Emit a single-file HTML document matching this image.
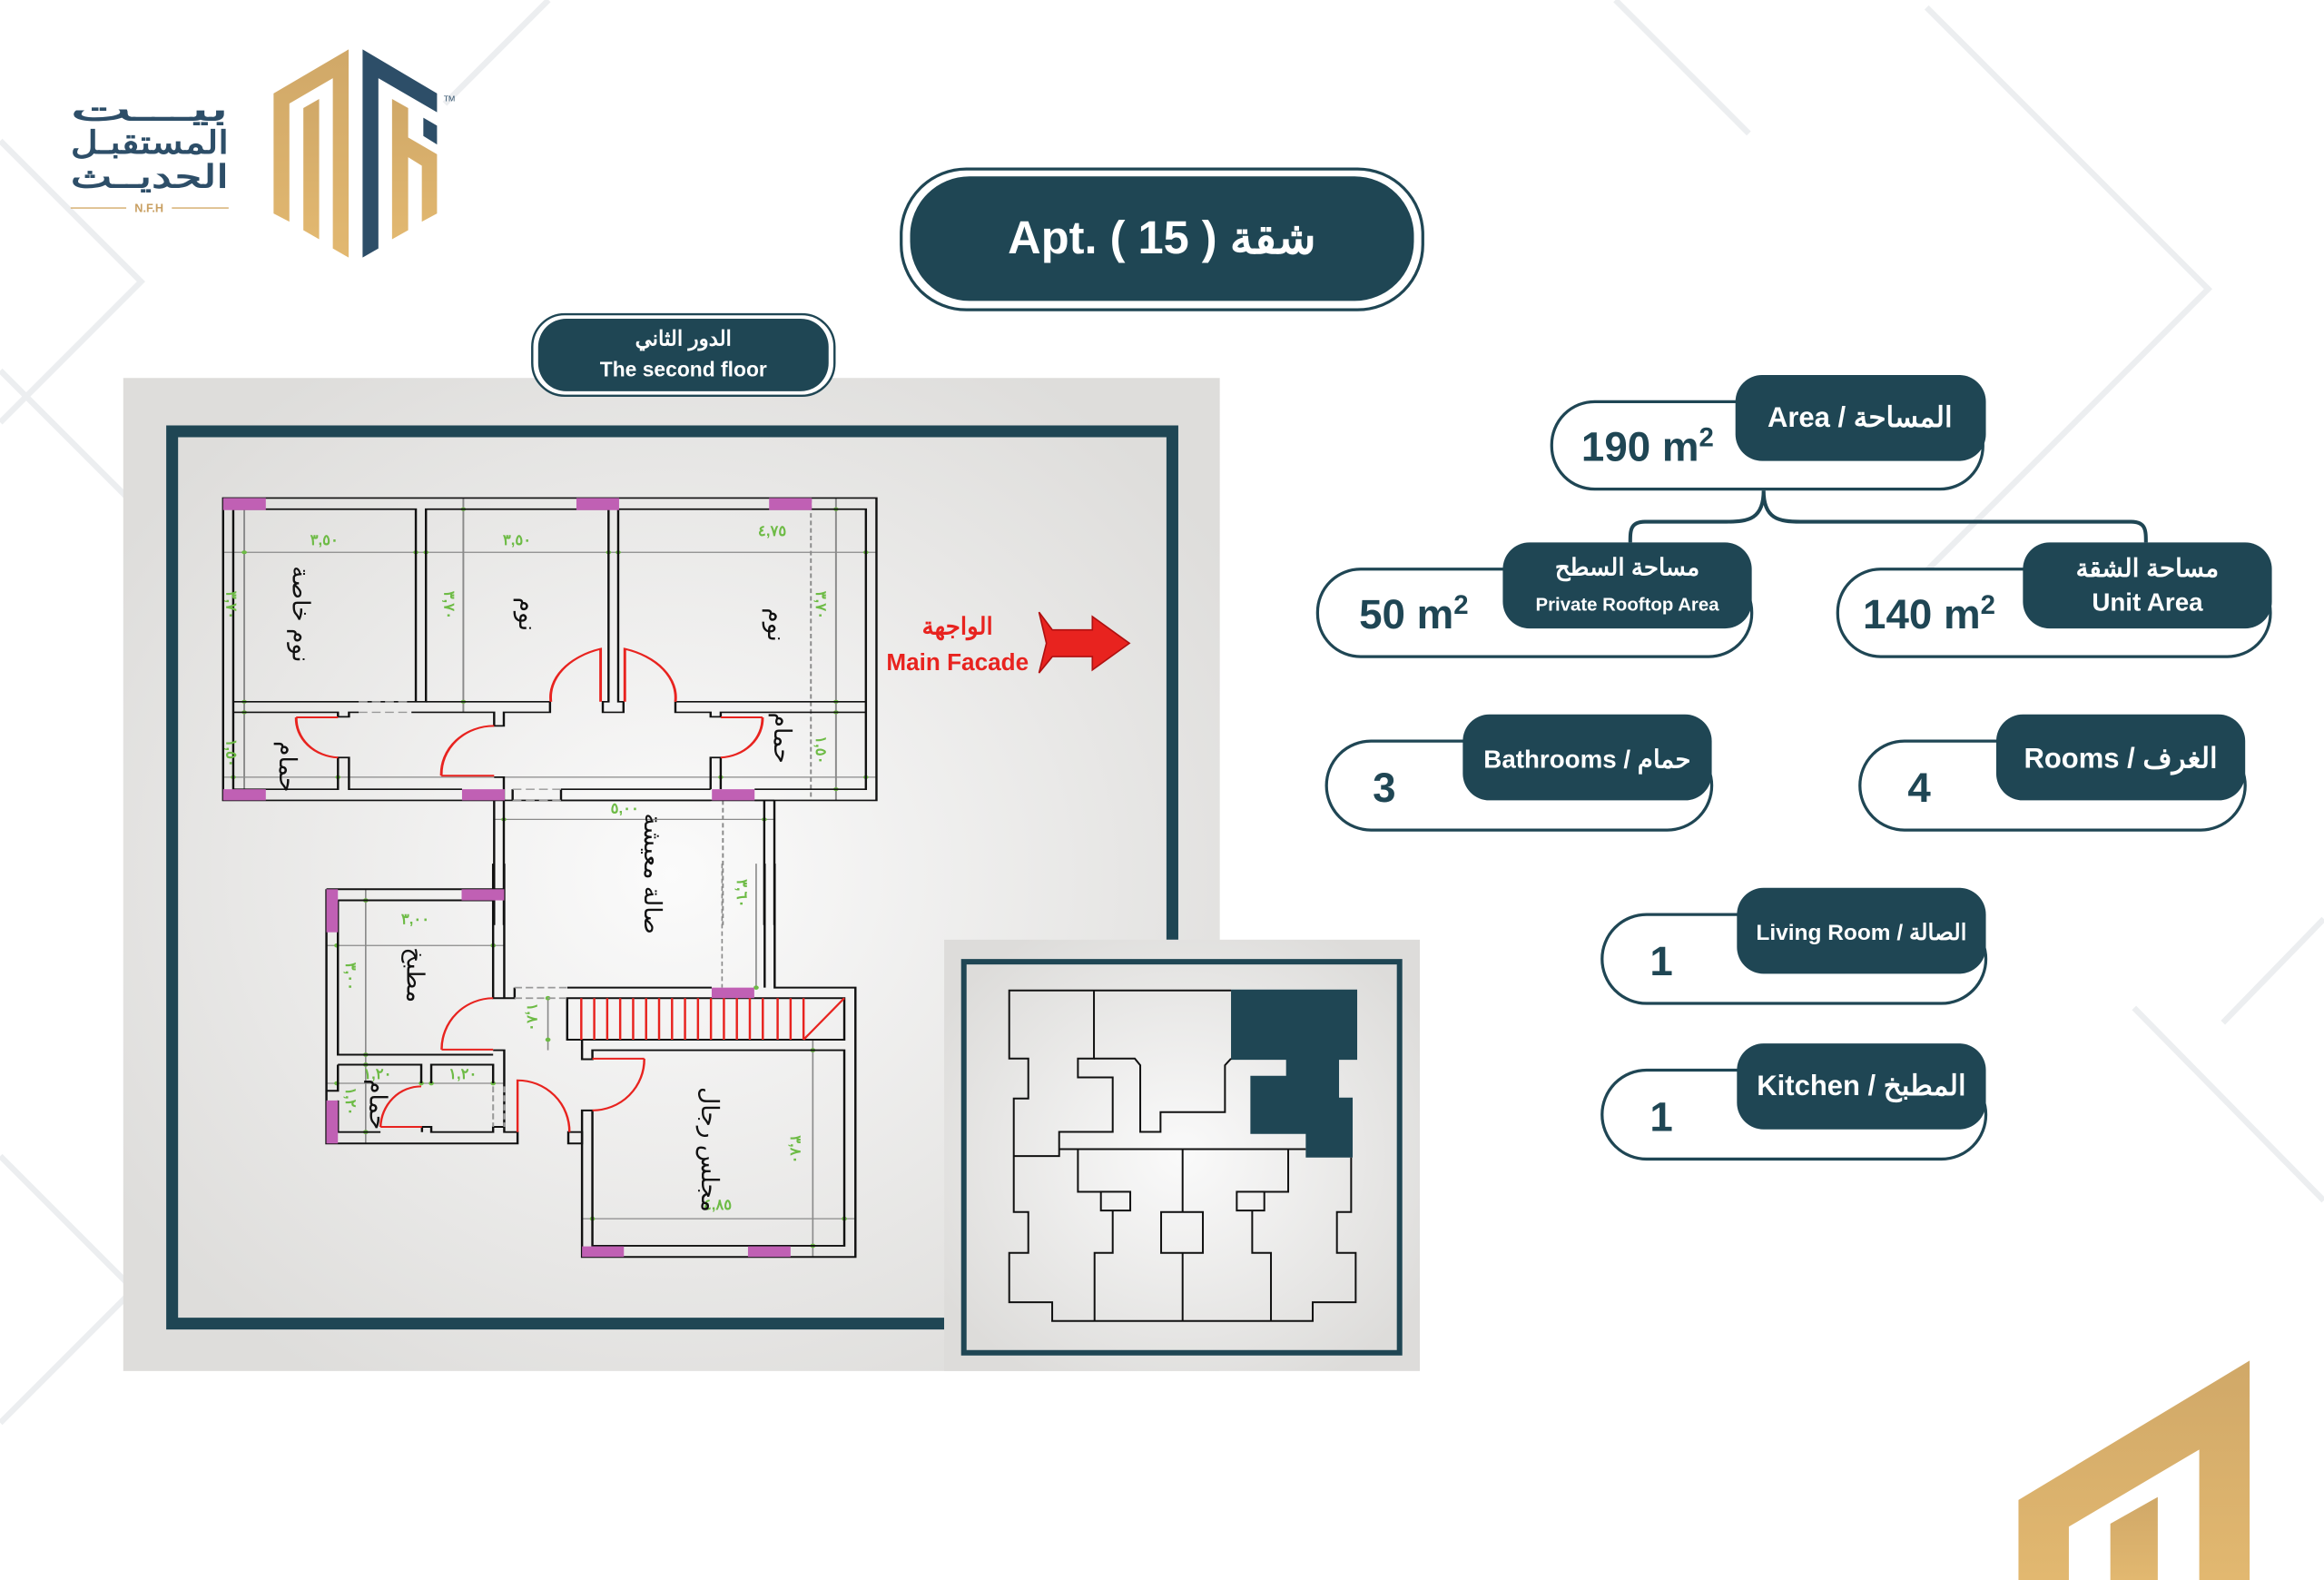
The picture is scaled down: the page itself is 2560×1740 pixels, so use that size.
<!DOCTYPE html>
<html><head><meta charset="utf-8"><style>
html,body{margin:0;padding:0;background:#fff;}
svg{display:block;}
text{font-family:"Liberation Sans","Noto Sans CJK SC",sans-serif;}
</style></head><body>
<svg width="2560" height="1740" viewBox="0 0 1568 1066" xmlns="http://www.w3.org/2000/svg">
<defs>
<radialGradient id="pg" cx="50%" cy="50%" r="60%"><stop offset="0" stop-color="#fbfbfb"/><stop offset="1" stop-color="#dedddb"/></radialGradient>
<radialGradient id="ig" cx="50%" cy="50%" r="60%"><stop offset="0" stop-color="#fafafa"/><stop offset="1" stop-color="#dddcda"/></radialGradient>
<linearGradient id="gold" x1="0" y1="0" x2="0" y2="1"><stop offset="0" stop-color="#d0a868"/><stop offset="1" stop-color="#e2b870"/></linearGradient>
</defs>
<rect width="1568" height="1066" fill="#fff"/>
<g stroke="#eceef0" stroke-width="4" fill="none">
<path d="M0,95 L95,190 L0,285"/>
<path d="M0,250 L130,380"/>
<path d="M1300,5 L1490,195 L1300,385"/>
<path d="M1440,680 L1568,810"/>
<path d="M1500,690 L1568,620"/>
<path d="M0,780 L90,870 L0,960"/>
<path d="M370,0 L300,70"/>
<path d="M1090,0 L1180,90"/>
</g>
<!-- logo -->
<g transform="translate(2,20) scale(0.205)">
<polygon points="890,210 1137,65 1137,750 1085,720 1085,160 942,243 942,632 890,605" fill="url(#gold)"/>
<polygon points="988,258 1040,228 1040,690 988,660" fill="url(#gold)"/>
<polygon points="1183,65 1428,210 1428,272 1235,160 1235,720 1183,750" fill="#2d4e68"/>
<polygon points="1383,290 1428,316 1428,378 1383,350" fill="#2d4e68"/>
<polygon points="1280,228 1333,258 1333,355 1428,410 1428,605 1378,632 1378,448 1333,420 1333,660 1280,690" fill="url(#gold)"/>
<text x="1450" y="235" font-size="26" fill="#2d4e68">TM</text>
<g font-weight="bold" fill="#2d4e68" text-anchor="end" font-size="105">
<text x="742" y="298" textLength="520" lengthAdjust="spacingAndGlyphs">بيـــت</text>
<text x="742" y="408" textLength="520" lengthAdjust="spacingAndGlyphs">المستقبـل</text>
<text x="742" y="520" textLength="520" lengthAdjust="spacingAndGlyphs">الحديــث</text>
</g>
<line x1="222" y1="587" x2="405" y2="587" stroke="#d4aa68" stroke-width="4"/>
<line x1="555" y1="587" x2="742" y2="587" stroke="#d4aa68" stroke-width="4"/>
<text x="480" y="600" font-size="38" fill="#c9a063" text-anchor="middle" font-weight="bold">N.F.H</text>
</g>
<!-- title -->
<rect x="608" y="114" width="352" height="95" rx="44" fill="#fff" stroke="#1f4654" stroke-width="2"/>
<rect x="614" y="119" width="340" height="84" rx="40" fill="#1f4654"/>
<text x="784" y="171" font-size="31" font-weight="bold" fill="#fff" text-anchor="middle">Apt. ( 15 ) شقة</text>
<!-- panel -->
<rect x="83" y="255" width="740" height="670" fill="url(#pg)"/>
<path d="M637,893 L116,893 L116,291 L791,291 L791,634" fill="none" stroke="#1f4654" stroke-width="8"/>
<!-- floor label -->
<rect x="359" y="212" width="204" height="55" rx="22" fill="#fff" stroke="#1f4654" stroke-width="1.5"/>
<rect x="363" y="215" width="196" height="49" rx="19" fill="#1f4654"/>
<text x="461" y="233" font-size="14" font-weight="bold" fill="#fff" text-anchor="middle">الدور الثاني</text>
<text x="461" y="254" font-size="14" font-weight="bold" fill="#fff" text-anchor="middle">The second floor</text>
<!-- inset -->
<rect x="637" y="634" width="321" height="291" fill="url(#ig)"/>
<g transform="translate(637,630.9) scale(0.2042)">
<rect x="65" y="88" width="1440" height="1292" fill="none" stroke="#1f4654" stroke-width="18"/>
<path d="M948,180 L1365,180 L1365,412 L1305,412 L1305,537 L1350,537 L1350,735 L1195,735 L1195,657 L1012,657 L1012,465 L1130,465 L1130,412 L948,412 Z" fill="#1f4654"/>
<g fill="none" stroke="#111" stroke-width="6">
<path d="M948,183 L215,183 L215,408 L278,408 L278,540 L230,540 L230,915 L278,915 L278,1050 L215,1050 L215,1213 L357,1213 L357,1275 L1218,1275 L1218,1213 L1360,1213 L1360,1050 L1298,1050 L1298,915 L1345,915 L1345,735"/>
<path d="M495,183 L495,408 L442,408 L442,470 L557,470 L557,650 L380,650 L380,730 L230,730"/>
<path d="M495,408 L630,408 L648,430 L648,650 L715,650 L715,585 L928,585 L928,430 L948,408"/>
<path d="M380,707 L1195,707"/>
<path d="M442,707 L442,848 L518,848"/>
<rect x="518" y="848" width="97" height="62"/>
<path d="M557,910 L557,1050 L497,1050 L497,1275"/>
<path d="M788,707 L788,915"/>
<rect x="717" y="915" width="138" height="135"/>
<path d="M788,1050 L788,1275"/>
<path d="M1137,707 L1137,848 L1058,848"/>
<rect x="967" y="848" width="91" height="62"/>
<path d="M1018,910 L1018,1050 L1080,1050 L1080,1275"/>
</g>
</g>
<!-- floor plan upper -->
<g transform="translate(140.9,318.7) scale(0.2969,0.2036)">
<g stroke="#8a8a8a" stroke-width="4" fill="none">
<line x1="32" y1="265" x2="1517" y2="265"/>
<line x1="32" y1="1010" x2="1517" y2="1010"/>
<line x1="80" y1="85" x2="80" y2="1087"/>
<line x1="578" y1="85" x2="578" y2="795"/>
<line x1="1425" y1="85" x2="1425" y2="1087"/>
<line x1="1368" y1="85" x2="1368" y2="1087" stroke-dasharray="15,10"/>
<line x1="1168" y1="1087" x2="1168" y2="1500" stroke-dasharray="15,10"/>
<line x1="648" y1="1150" x2="1285" y2="1150"/>
</g>
<g fill="#6dbb45">
<circle cx="80" cy="265" r="6"/><circle cx="470" cy="265" r="6"/><circle cx="493" cy="265" r="6"/><circle cx="908" cy="265" r="6"/><circle cx="930" cy="265" r="6"/><circle cx="1493" cy="265" r="6"/>
<circle cx="578" cy="122" r="6"/><circle cx="578" cy="760" r="6"/><circle cx="1425" cy="122" r="6"/><circle cx="1425" cy="760" r="6"/><circle cx="1425" cy="795" r="6"/><circle cx="1425" cy="1050" r="6"/>
<circle cx="80" cy="760" r="6"/><circle cx="80" cy="795" r="6"/><circle cx="55" cy="1010" r="6"/><circle cx="293" cy="1010" r="6"/><circle cx="1163" cy="1010" r="6"/><circle cx="1493" cy="1010" r="6"/>
<circle cx="670" cy="1150" r="6"/><circle cx="1262" cy="1150" r="6"/>
</g>
<g fill="none" stroke="#111" stroke-width="5">
<rect x="32" y="85" width="1485" height="1002"/>
<path d="M55,122 L470,122 L470,760 L340,760 M460,760 L493,760 L493,122 L908,122 L908,760 L895,760 L895,795 L942,795 L942,760 L930,760 L930,122 L1493,122 L1493,1050 L1240,1050 M575,1050 L318,1050 L318,945 L293,945 L293,1050 L55,1050 L55,122"/>
<path d="M55,760 L340,760 M55,795 L293,795 L293,810 L318,810 L318,795 L340,795 M460,795 L648,795 L648,840 L670,840 L670,795 L775,795 L775,760 L493,760"/>
<path d="M1060,760 L1493,760 M1060,760 L1060,795 L1140,795 L1140,810 L1163,810 L1163,795 L1493,795"/>
<path d="M1140,1050 L1140,945 L1163,945 L1163,1050"/>
<path d="M648,1010 L670,1010 L670,1087 M690,1050 L690,1087 M800,1050 L800,1087 L1140,1087 M800,1050 L1140,1050"/>
<path d="M648,1087 L648,1500 M670,1087 L670,1500 M1262,1087 L1262,1500 M1285,1087 L1285,1500 M1240,1087 L1285,1087"/>
</g>
<g stroke="#999" stroke-width="4" stroke-dasharray="20,10">
<line x1="340" y1="760" x2="460" y2="760"/><line x1="340" y1="795" x2="460" y2="795"/>
<line x1="690" y1="1050" x2="800" y2="1050"/><line x1="690" y1="1087" x2="800" y2="1087"/>
</g>
<g fill="#c060b4">
<rect x="32" y="85" width="97" height="40"/><rect x="835" y="85" width="97" height="40"/><rect x="1273" y="85" width="97" height="40"/>
<rect x="32" y="1050" width="97" height="37"/><rect x="575" y="1050" width="97" height="37"/><rect x="1143" y="1050" width="97" height="37"/>
</g>
<g fill="none" stroke="#e8231f" stroke-width="6">
<path d="M890,760 L890,585 A170,170 0 0 0 777,760"/>
<path d="M945,760 L945,585 A170,170 0 0 1 1060,760"/>
<path d="M198,812 L293,812 M198,812 A100,130 0 0 0 293,945"/>
<path d="M1163,812 L1258,812 M1258,812 A100,130 0 0 1 1163,945"/>
<path d="M528,1005 L648,1005 M528,1005 A120,160 0 0 1 648,840"/>
</g>
<g font-size="50" fill="#6dbb45" font-weight="bold" text-anchor="middle">
<text transform="translate(262,240) scale(0.686,1)">٣,٥٠</text>
<text transform="translate(700,240) scale(0.686,1)">٣,٥٠</text>
<text transform="translate(1280,210) scale(0.686,1)">٤,٧٥</text>
<text transform="translate(945,1130) scale(0.686,1)">٥,٠٠</text>
<text transform="translate(40,440) rotate(90) scale(1,0.686)">٣,٧٠</text>
<text transform="translate(535,440) rotate(90) scale(1,0.686)">٣,٧٠</text>
<text transform="translate(1380,440) rotate(90) scale(1,0.686)">٣,٧٠</text>
<text transform="translate(40,930) rotate(90) scale(1,0.686)">١,٥٠</text>
<text transform="translate(1380,920) rotate(90) scale(1,0.686)">١,٥٠</text>
<text transform="translate(1200,1395) rotate(90) scale(1,0.686)">٣,٦٠</text>
</g>
<g font-size="80" fill="#111" text-anchor="middle">
<text transform="translate(190,470) rotate(90) scale(1,0.686)">نوم خاصة</text>
<text transform="translate(705,470) rotate(90) scale(1,0.686)">نوم</text>
<text transform="translate(1270,505) rotate(90) scale(1,0.686)">نوم</text>
<text transform="translate(160,975) rotate(90) scale(1,0.686)">حمام</text>
<text transform="translate(1285,880) rotate(90) scale(1,0.686)">حمام</text>
<text transform="translate(990,1330) rotate(90) scale(1,0.686)">صالة معيشة</text>
</g>
</g>
<!-- floor plan lower -->
<g transform="translate(202.1,582.7) scale(0.25,0.203)">
<g stroke="#8a8a8a" stroke-width="4" fill="none">
<line x1="178" y1="85" x2="178" y2="930"/>
<line x1="72" y1="272" x2="552" y2="272"/>
<line x1="72" y1="730" x2="552" y2="730"/>
<line x1="1385" y1="585" x2="1385" y2="1307"/>
<line x1="762" y1="1180" x2="1500" y2="1180"/>
<line x1="670" y1="447" x2="670" y2="620"/>
<line x1="1140" y1="0" x2="1140" y2="412" stroke-dasharray="15,10"/>
<line x1="1232" y1="0" x2="1232" y2="412"/>
</g>
<g fill="#6dbb45">
<circle cx="178" cy="122" r="7"/><circle cx="100" cy="272" r="7"/><circle cx="522" cy="272" r="7"/><circle cx="178" cy="635" r="7"/><circle cx="178" cy="668" r="7"/>
<circle cx="100" cy="730" r="7"/><circle cx="328" cy="730" r="7"/><circle cx="355" cy="730" r="7"/><circle cx="522" cy="730" r="7"/><circle cx="178" cy="892" r="7"/>
<circle cx="670" cy="447" r="7"/><circle cx="670" cy="585" r="7"/><circle cx="1385" cy="620" r="7"/><circle cx="790" cy="1180" r="7"/><circle cx="1470" cy="1180" r="7"/><circle cx="1385" cy="1270" r="7"/><circle cx="1232" cy="412" r="7"/>
</g>
<g fill="none" stroke="#111" stroke-width="6">
<path d="M72,85 L552,85 L552,447 L580,447 L580,412 M522,0 L522,447 L552,447 M552,0 L552,85"/>
<path d="M103,122 L522,122 M103,122 L103,635 L522,635 M72,85 L72,930 L588,930 L588,892 L552,892 L552,620 L522,620"/>
<path d="M103,668 L328,668 L328,730 M355,730 L355,668 L522,668 L522,730 M103,668 L103,755 L72,755 M103,787 L103,892 L218,892 M330,892 L330,875 L355,875 L355,892 L522,892 L522,875 L552,875"/>
<path d="M722,412 L1112,412 M1282,0 L1282,412 L1500,412 L1500,1307 L762,1307 L762,820 L790,820 L790,1270 L1470,1270 L1470,620 L790,620 L790,650 L762,650 L762,585"/>
<rect x="722" y="447" width="748" height="138"/>
<path d="M1255,0 L1255,412"/>
<path d="M725,892 L725,930 L762,930 L762,892 Z"/>
</g>
<g stroke="#999" stroke-width="5" stroke-dasharray="20,10">
<line x1="580" y1="412" x2="722" y2="412"/><line x1="580" y1="447" x2="722" y2="447"/>
<line x1="522" y1="740" x2="522" y2="875"/><line x1="552" y1="740" x2="552" y2="875"/>
</g>
<g fill="#c060b4">
<rect x="72" y="85" width="31" height="143"/><rect x="437" y="85" width="115" height="37"/>
<rect x="72" y="787" width="31" height="143"/><rect x="1112" y="412" width="115" height="35"/>
<rect x="762" y="1272" width="113" height="35"/><rect x="1210" y="1272" width="115" height="35"/>
</g>
<g fill="none" stroke="#e8231f" stroke-width="6">
<path d="M760,447 L760,585 M795,447 L795,585 M830,447 L830,585 M865,447 L865,585 M900,447 L900,585 M935,447 L935,585 M970,447 L970,585 M1005,447 L1005,585 M1040,447 L1040,585 M1075,447 L1075,585 M1110,447 L1110,585 M1145,447 L1145,585 M1180,447 L1180,585 M1215,447 L1215,585 M1250,447 L1250,585 M1290,447 L1290,585 M1325,447 L1325,585 M1360,447 L1360,585 M1360,585 L1470,447"/>
<path d="M383,618 L522,618 M383,618 A140,170 0 0 1 522,447"/>
<path d="M588,892 L588,720 A140,170 0 0 1 728,892"/>
<path d="M790,648 L930,648 M930,648 A140,170 0 0 1 790,820"/>
<path d="M218,875 L330,875 M218,875 A110,140 0 0 1 328,740"/>
</g>
<g font-size="50" fill="#6dbb45" font-weight="bold" text-anchor="middle">
<text transform="translate(312,200) scale(0.812,1)">٣,٠٠</text>
<text transform="translate(210,715) scale(0.812,1)">١,٢٠</text>
<text transform="translate(440,715) scale(0.812,1)">١,٢٠</text>
<text transform="translate(1128,1150) scale(0.812,1)">٤,٨٥</text>
<text transform="translate(125,375) rotate(90) scale(1,0.812)">٣,٠٠</text>
<text transform="translate(125,790) rotate(90) scale(1,0.812)">١,٢٠</text>
<text transform="translate(615,510) rotate(90) scale(1,0.812)">١,٨٠</text>
<text transform="translate(1325,950) rotate(90) scale(1,0.812)">٣,٨٠</text>
</g>
<g font-size="80" fill="#111" text-anchor="middle">
<text transform="translate(290,370) rotate(90) scale(1,0.812)">مطبخ</text>
<text transform="translate(190,800) rotate(90) scale(1,0.812)">حمام</text>
<text transform="translate(1085,950) rotate(90) scale(1,0.812)">مجلس رجال</text>
</g>
</g>
<!-- facade -->
<text x="646" y="428" font-size="16" font-weight="bold" fill="#e8231f" text-anchor="middle">الواجهة</text>
<text x="646" y="452" font-size="16" font-weight="bold" fill="#e8231f" text-anchor="middle">Main Facade</text>
<path d="M701,413 L710,425 L737,425 L737,416 L762,434 L737,452 L737,443 L710,443 L701,454 L706,434 Z" fill="#e8231f" stroke="#b01010" stroke-width="1"/>
<!-- right info -->
<g font-weight="bold">
<rect x="1047" y="271" width="291" height="59" rx="29" fill="#fff" stroke="#1f4654" stroke-width="2"/>
<rect x="1171" y="253" width="169" height="58" rx="18" fill="#1f4654"/>
<text x="1255" y="288" font-size="19" fill="#fff" text-anchor="middle">Area / المساحة</text>
<text x="1067" y="311" font-size="28" fill="#1f4654">190 m<tspan font-size="18" dy="-10">2</tspan></text>
<path d="M1190,331 C1190,350 1180,352 1165,352 L1110,352 C1100,352 1100,358 1100,366 M1190,331 C1190,350 1200,352 1215,352 L1438,352 C1448,352 1448,358 1448,366" fill="none" stroke="#1f4654" stroke-width="2.5"/>

<rect x="889" y="384" width="293" height="59" rx="29" fill="#fff" stroke="#1f4654" stroke-width="2"/>
<rect x="1014" y="366" width="168" height="58" rx="18" fill="#1f4654"/>
<text x="1098" y="388" font-size="16" fill="#fff" text-anchor="middle">مساحة السطح</text>
<text x="1098" y="412" font-size="12.5" fill="#fff" text-anchor="middle">Private Rooftop Area</text>
<text x="917" y="424" font-size="28" fill="#1f4654">50 m<tspan font-size="18" dy="-10">2</tspan></text>

<rect x="1240" y="384" width="292" height="59" rx="29" fill="#fff" stroke="#1f4654" stroke-width="2"/>
<rect x="1365" y="366" width="168" height="58" rx="18" fill="#1f4654"/>
<text x="1449" y="389" font-size="17" fill="#fff" text-anchor="middle">مساحة الشقة</text>
<text x="1449" y="412" font-size="17" fill="#fff" text-anchor="middle">Unit Area</text>
<text x="1257" y="424" font-size="28" fill="#1f4654">140 m<tspan font-size="18" dy="-10">2</tspan></text>

<rect x="895" y="500" width="260" height="60" rx="30" fill="#fff" stroke="#1f4654" stroke-width="2"/>
<rect x="987" y="482" width="168" height="58" rx="18" fill="#1f4654"/>
<text x="1071" y="518" font-size="17" fill="#fff" text-anchor="middle">Bathrooms / حمام</text>
<text x="934" y="541" font-size="28" fill="#1f4654" text-anchor="middle">3</text>

<rect x="1255" y="500" width="260" height="60" rx="30" fill="#fff" stroke="#1f4654" stroke-width="2"/>
<rect x="1347" y="482" width="168" height="58" rx="18" fill="#1f4654"/>
<text x="1431" y="518" font-size="19" fill="#fff" text-anchor="middle">Rooms / الغرف</text>
<text x="1295" y="541" font-size="28" fill="#1f4654" text-anchor="middle">4</text>

<rect x="1081" y="617" width="259" height="60" rx="30" fill="#fff" stroke="#1f4654" stroke-width="2"/>
<rect x="1172" y="599" width="168" height="58" rx="18" fill="#1f4654"/>
<text x="1256" y="634" font-size="15" fill="#fff" text-anchor="middle">Living Room / الصالة</text>
<text x="1121" y="658" font-size="28" fill="#1f4654" text-anchor="middle">1</text>

<rect x="1081" y="722" width="259" height="60" rx="30" fill="#fff" stroke="#1f4654" stroke-width="2"/>
<rect x="1172" y="704" width="168" height="58" rx="18" fill="#1f4654"/>
<text x="1256" y="739" font-size="19" fill="#fff" text-anchor="middle">Kitchen / المطبخ</text>
<text x="1121" y="763" font-size="28" fill="#1f4654" text-anchor="middle">1</text>
</g>
<polygon points="1362,1066 1362,1012 1518,918 1518,1066" fill="url(#gold)"/>
<polygon points="1396,1066 1396,1030 1484,978 1484,1066" fill="#fff"/>
<polygon points="1424,1066 1424,1028 1456,1010 1456,1066" fill="url(#gold)"/>
</svg>
</body></html>
